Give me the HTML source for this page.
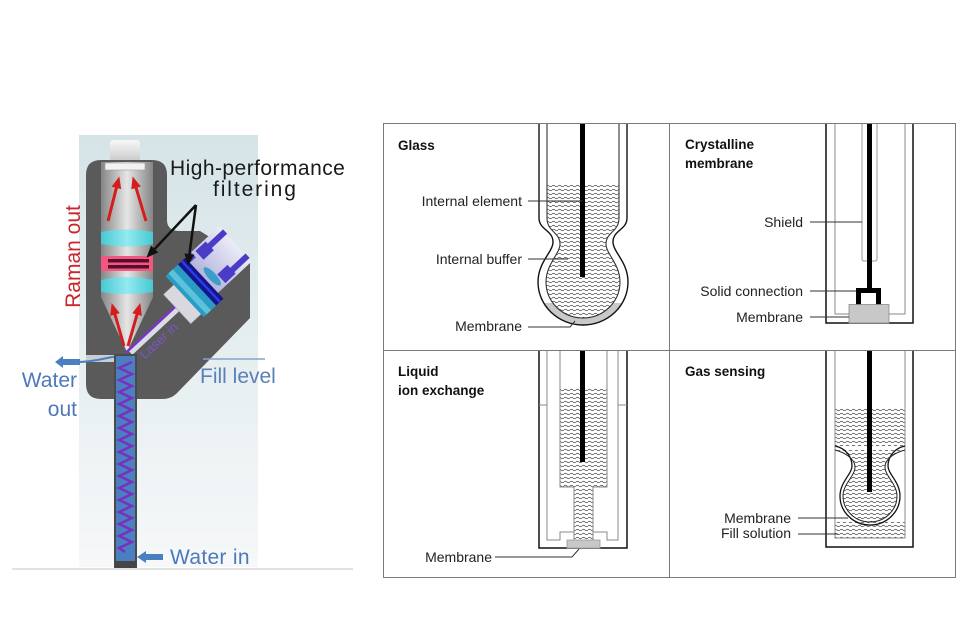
<!DOCTYPE html>
<html><head><meta charset="utf-8"><style>
html,body{margin:0;padding:0;background:#fff;}
svg{display:block;}
text{font-family:"Liberation Sans",Arial,sans-serif;}
</style></head><body>
<svg width="960" height="640" viewBox="0 0 960 640" xmlns="http://www.w3.org/2000/svg">
<defs>
<linearGradient id="pg" x1="0" y1="0" x2="0" y2="1"><stop offset="0" stop-color="#d5e4e7"/><stop offset="1" stop-color="#f6f8f9"/></linearGradient>
<linearGradient id="ch" x1="0" y1="0" x2="1" y2="0"><stop offset="0" stop-color="#858585"/><stop offset="0.5" stop-color="#e6e6e6"/><stop offset="1" stop-color="#858585"/></linearGradient>
<linearGradient id="cy" x1="0" y1="0" x2="1" y2="0"><stop offset="0" stop-color="#46c9d2"/><stop offset="0.5" stop-color="#94eaf0"/><stop offset="1" stop-color="#46c9d2"/></linearGradient>
<linearGradient id="cap" x1="0" y1="0" x2="0" y2="1"><stop offset="0" stop-color="#f8f8f8"/><stop offset="1" stop-color="#cdcdcd"/></linearGradient>
<linearGradient id="hs" x1="0" y1="0" x2="1" y2="0"><stop offset="0" stop-color="#b4b4de"/><stop offset="1" stop-color="#ececf8"/></linearGradient>
<pattern id="wv" width="6" height="4" patternUnits="userSpaceOnUse"><path d="M0,2 Q1.5,0.5 3,2 T6,2" fill="none" stroke="#3a3a3a" stroke-width="0.6"/></pattern>
<marker id="rh" markerWidth="12" markerHeight="10" refX="1" refY="5" orient="auto" markerUnits="userSpaceOnUse"><path d="M0,0 L12,5 L0,10 z" fill="#d41e1e"/></marker>
<marker id="bh" markerWidth="12" markerHeight="10" refX="1" refY="5" orient="auto" markerUnits="userSpaceOnUse"><path d="M0,0 L12,5 L0,10 z" fill="#111"/></marker>
<clipPath id="gclip"><rect x="530" y="185" width="110" height="150"/></clipPath>
<clipPath id="mclip"><rect x="530" y="303" width="110" height="30"/></clipPath>
</defs>

<!-- ================= LEFT DIAGRAM ================= -->
<rect x="79" y="135" width="179" height="432" fill="url(#pg)"/>
<line x1="12" y1="569" x2="353" y2="569" stroke="#d9d9d9" stroke-width="1.5"/>

<!-- body -->
<path d="M101,160 H152 Q167,160 167,175 V220 Q167,231 180,231 H200 L250,262 V318 L178,392 Q172,399 162,399 H101 Q86,399 86,384 V175 Q86,160 101,160 Z" fill="#5a5a5a"/>

<!-- inner channel -->
<path d="M101,162 H153 V297 L127,352 L101,297 Z" fill="url(#ch)"/>

<!-- cap -->
<path d="M110,160 V144 Q110,140 114,140 H136 Q140,140 140,144 V160 Z" fill="url(#cap)"/>
<rect x="105" y="163" width="40" height="7" fill="#f2f2f2" stroke="#9a9a9a" stroke-width="0.6"/>

<!-- lenses & filter -->
<path d="M101,232 Q127,227 153,232 V244 Q127,249 101,244 Z" fill="url(#cy)"/>
<rect x="101" y="256" width="52" height="15" fill="#f2577f"/>
<rect x="108" y="259" width="41" height="3.5" fill="#5a0c2c"/>
<rect x="108" y="265" width="41" height="3.5" fill="#5a0c2c"/>
<path d="M101,280 Q127,274 153,280 V292 Q127,296 101,292 Z" fill="url(#cy)"/>

<!-- red arrows -->
<g stroke="#d41e1e" stroke-width="3" fill="none" marker-end="url(#rh)">
<line x1="108" y1="221" x2="116.6" y2="187"/>
<line x1="146" y1="221" x2="135.8" y2="187"/>
<line x1="124" y1="346" x2="114.7" y2="313.6"/>
<line x1="128" y1="346" x2="137.3" y2="313.6"/>
</g>

<!-- laser assembly -->
<g transform="translate(126,354) rotate(-43)">
<rect x="4" y="-2" width="66" height="7" fill="#dcdce6"/>
<line x1="0" y1="-1" x2="74" y2="-1" stroke="#7636c8" stroke-width="2.5"/>
<rect x="68" y="-18" width="16" height="40" fill="#d8d8de" stroke="#a0a0a8" stroke-width="0.5"/>
<rect x="82" y="-30" width="18" height="56" fill="#2a9cc4"/>
<rect x="86" y="-30" width="6" height="56" fill="#5cc2dc"/>
<rect x="99" y="-30" width="10" height="56" fill="#15158a"/>
<rect x="103" y="-30" width="2.5" height="56" fill="#2a3af0"/>
<rect x="109" y="-30" width="46" height="48" fill="url(#hs)"/>
<ellipse cx="116" cy="2" rx="4" ry="12" fill="#3a9ec8"/>
<rect x="121" y="-28" width="14" height="12" fill="#4b3cc8"/>
<rect x="134" y="-25" width="22" height="6" fill="#4b3cc8"/>
<rect x="121" y="4" width="14" height="12" fill="#4b3cc8"/>
<rect x="134" y="8" width="22" height="6" fill="#4b3cc8"/>
<rect x="110" y="-30" width="7" height="7" fill="#5a4ad0"/>
</g>
<text transform="translate(126,354) rotate(-43)" x="10" y="17" font-size="13" fill="#8055d0" opacity="0.9">Laser in</text>

<!-- water out channel -->
<rect x="86" y="355" width="40" height="7" fill="#c9ced2"/>
<path d="M78,362 C98,362 108,356 124,356" stroke="#4a80c0" stroke-width="2" fill="none"/>
<path d="M55,362 L63,356 V359 H80 V365 H63 V368 Z" fill="#4a80c0"/>

<!-- tube -->
<rect x="115" y="355" width="21" height="212" fill="#4a80c0" stroke="#4a4a4a" stroke-width="2"/>
<rect x="115" y="561" width="21" height="7" fill="#454545"/>
<polyline fill="none" stroke="#7b2fbe" stroke-width="2.5" points="132,362 119,368 132,374 119,380 132,386 119,392 132,398 119,404 132,410 119,416 132,422 119,428 132,434 119,440 132,446 119,452 132,458 119,464 132,470 119,476 132,482 119,488 132,494 119,500 132,506 119,512 132,518 119,524 132,530 119,536 132,542 119,548 125,552"/>

<!-- water in arrow -->
<path d="M137,557 L146,551 V554 H163 V560 H146 V563 Z" fill="#4a80c0"/>

<!-- fill level -->
<line x1="203" y1="359" x2="265" y2="359" stroke="#7ea6cc" stroke-width="1.5"/>

<!-- black arrows -->
<g stroke="#111" stroke-width="2.5" fill="none" marker-end="url(#bh)">
<line x1="196" y1="205" x2="154" y2="249.7"/>
<line x1="196" y1="205" x2="189.3" y2="255"/>
</g>

<!-- left texts -->
<text x="170" y="175" font-size="21" fill="#1a1a1a" letter-spacing="0.45">High-performance</text>
<text x="213" y="196" font-size="21" fill="#1a1a1a" letter-spacing="1.9">filtering</text>
<text transform="translate(80,256.5) rotate(-90)" x="0" y="0" font-size="21" fill="#c8262b" text-anchor="middle">Raman out</text>
<text x="77" y="387" font-size="21" fill="#4d79bb" text-anchor="end">Water</text>
<text x="77" y="416" font-size="21" fill="#4d79bb" text-anchor="end">out</text>
<text x="200" y="383" font-size="21" fill="#5a80b8">Fill level</text>
<text x="170" y="564" font-size="21" fill="#4d79bb" letter-spacing="0.3">Water in</text>

<!-- ================= RIGHT DIAGRAM ================= -->
<rect x="383.5" y="123.5" width="572" height="454" fill="#fff" stroke="#7a7a7a" stroke-width="1"/>
<line x1="669.5" y1="123.5" x2="669.5" y2="577.5" stroke="#7a7a7a" stroke-width="1"/>
<line x1="383.5" y1="350.5" x2="955.5" y2="350.5" stroke="#7a7a7a" stroke-width="1"/>

<!-- Glass -->
<path d="M539,124 V218 C539,230 553,230 553,242 C553,252 538,262 538,282 A45,43 0 0 0 628,282 C628,262 613,252 613,242 C613,230 627,230 627,218 V124 Z" fill="#c9c9c9" clip-path="url(#mclip)"/>
<path d="M547,124 V218 C547,232 560,232 560,244 C560,254 546,264 546,282 A37,36 0 0 0 620,282 C620,264 606,254 606,244 C606,232 619,232 619,218 V124 Z" fill="#fff"/>
<path d="M547,124 V218 C547,232 560,232 560,244 C560,254 546,264 546,282 A37,36 0 0 0 620,282 C620,264 606,254 606,244 C606,232 619,232 619,218 V124 Z" fill="url(#wv)" clip-path="url(#gclip)"/>
<path d="M539,124 V218 C539,230 553,230 553,242 C553,252 538,262 538,282 A45,43 0 0 0 628,282 C628,262 613,252 613,242 C613,230 627,230 627,218 V124" fill="none" stroke="#111" stroke-width="1.4"/>
<path d="M547,124 V218 C547,232 560,232 560,244 C560,254 546,264 546,282 A37,36 0 0 0 620,282 C620,264 606,254 606,244 C606,232 619,232 619,218 V124" fill="none" stroke="#333" stroke-width="1.1"/>
<rect x="580" y="124" width="5" height="153" fill="#000"/>
<g stroke="#333" stroke-width="1" fill="none">
<line x1="528" y1="201" x2="583" y2="201"/>
<line x1="528" y1="259" x2="568" y2="259"/>
<polyline points="528,327 570,327 575,321"/>
</g>
<text x="398" y="150" font-size="13.5" font-weight="bold" fill="#111">Glass</text>
<g font-size="14" fill="#222" text-anchor="end">
<text x="522" y="206">Internal element</text>
<text x="522" y="264">Internal buffer</text>
<text x="522" y="331">Membrane</text>
</g>

<!-- Crystalline membrane -->
<path d="M826,124 V323 H913 V124" fill="none" stroke="#111" stroke-width="1.5"/>
<path d="M835,124 V314 H849 M889,314 H905 V124" fill="none" stroke="#888" stroke-width="1"/>
<path d="M862,124 V259 Q862,261 864,261 H875 Q877,261 877,259 V124" fill="none" stroke="#999" stroke-width="1"/>
<rect x="867" y="124" width="5" height="166" fill="#000"/>
<path d="M856,305 V288 H881 V305 H876 V293 H861 V305 Z" fill="#000"/>
<rect x="849" y="304.5" width="40" height="18.5" fill="#c8c8c8" stroke="#8a8a8a" stroke-width="0.8"/>
<g stroke="#333" stroke-width="1">
<line x1="810" y1="222" x2="862" y2="222"/>
<line x1="810" y1="291" x2="856" y2="291"/>
<line x1="810" y1="317" x2="849" y2="317"/>
</g>
<text x="685" y="149" font-size="13.5" font-weight="bold" fill="#111">Crystalline</text>
<text x="685" y="168" font-size="13.5" font-weight="bold" fill="#111">membrane</text>
<g font-size="14" fill="#222" text-anchor="end">
<text x="803" y="227">Shield</text>
<text x="803" y="296">Solid connection</text>
<text x="803" y="322">Membrane</text>
</g>

<!-- Liquid ion exchange -->
<rect x="560" y="387" width="47" height="100" fill="url(#wv)"/>
<rect x="574" y="487" width="19" height="53" fill="url(#wv)"/>
<path d="M539,351 V548 H627 V351" fill="none" stroke="#111" stroke-width="1.5"/>
<g fill="none" stroke="#888" stroke-width="1">
<path d="M547,351 V540 H560 V532 H574"/>
<path d="M618,351 V540 H607 V532 H593"/>
<path d="M560,351 V487 H574 V540"/>
<path d="M607,351 V487 H593 V540"/>
<path d="M539,405 H547 M618,405 H627"/>
</g>
<rect x="580" y="351" width="5" height="111" fill="#000"/>
<rect x="567" y="540" width="33" height="8" fill="#c8c8c8" stroke="#999" stroke-width="0.8"/>
<polyline points="495,557 572,557 579,549" fill="none" stroke="#333" stroke-width="1"/>
<text x="398" y="376" font-size="13.5" font-weight="bold" fill="#111">Liquid</text>
<text x="398" y="395" font-size="13.5" font-weight="bold" fill="#111">ion exchange</text>
<text x="492" y="562" font-size="14" fill="#222" text-anchor="end">Membrane</text>

<!-- Gas sensing -->
<rect x="835" y="408" width="70" height="130" fill="url(#wv)"/>
<path fill-rule="evenodd" fill="#fff" d="M835,446 H905 V522 H835 Z M835,450 C843,452 855,458 855,467 C855,476 843,484 843,496 A27,26 0 0 0 897,496 C897,484 885,476 885,467 C885,458 897,452 905,450 Z"/>
<path d="M826,351 V547 H913 V351" fill="none" stroke="#111" stroke-width="1.5"/>
<path d="M835,351 V538 H905 V351" fill="none" stroke="#888" stroke-width="1"/>
<path d="M835,446 C845,448 852,456 852,466 C852,474 840,482 840,496 A30,29 0 0 0 900,496 C900,482 888,474 888,466 C888,456 895,448 905,446" fill="none" stroke="#111" stroke-width="1.3"/>
<path d="M835,450 C843,452 855,458 855,467 C855,476 843,484 843,496 A27,26 0 0 0 897,496 C897,484 885,476 885,467 C885,458 897,452 905,450" fill="none" stroke="#222" stroke-width="1"/>
<rect x="867" y="351" width="5" height="141" fill="#000"/>
<g stroke="#333" stroke-width="1">
<line x1="798" y1="518" x2="848" y2="518"/>
<line x1="798" y1="534" x2="838" y2="534"/>
</g>
<text x="685" y="376" font-size="13.5" font-weight="bold" fill="#111">Gas sensing</text>
<g font-size="14" fill="#222" text-anchor="end">
<text x="791" y="523">Membrane</text>
<text x="791" y="538">Fill solution</text>
</g>
</svg>
</body></html>
